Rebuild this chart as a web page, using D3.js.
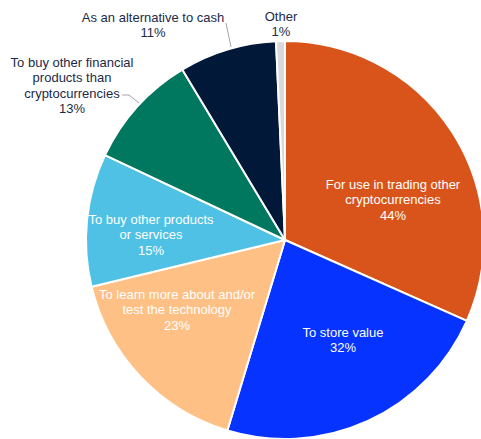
<!DOCTYPE html>
<html>
<head>
<meta charset="utf-8">
<script src="https://cdn.jsdelivr.net/npm/d3@7"></script>
<style>
  html, body { margin: 0; padding: 0; background: #ffffff; }
  svg { display: block; font-family: "Liberation Sans", Arial, sans-serif; }
</style>
</head>
<body>
<svg id="chart" width="481" height="439"></svg>
<script>
// Reasons for holding cryptocurrencies (multiple answers allowed)
const categories = [
  "For use in trading other cryptocurrencies",
  "To store value",
  "To learn more about and/or test the technology",
  "To buy other products or services",
  "To buy other financial products than cryptocurrencies",
  "As an alternative to cash",
  "Other"
];
const values = [44, 32, 23, 15, 13, 11, 1];
const labelLines = [
  ["For use in trading other", "cryptocurrencies"],
  ["To store value"],
  ["To learn more about and/or", "test the technology"],
  ["To buy other products", "or services"],
  ["To buy other financial", "products than", "cryptocurrencies"],
  ["As an alternative to cash"],
  ["Other"]
];
const colors = ["#d9541a", "#0633ff", "#ffc085", "#4fc1e4", "#00775f", "#011839", "#d9d9d9"];

// Label placement (offset of the first baseline from the pie centre)
const labelLayout = [
  { dx: 108,  dy: -51,  inside: true },
  { dx: 58,   dy: 97,   inside: true },
  { dx: -108, dy: 59,   inside: true },
  { dx: -134, dy: -16,  inside: true },
  { dx: -213, dy: -173, inside: false },
  { dx: -132, dy: -218, inside: false },
  { dx: -4,   dy: -219, inside: false }
];

const svg = d3.select("#chart");
const cx = 285, cy = 240, radius = 199;
const g = svg.append("g").attr("transform", `translate(${cx},${cy})`);

const pie = d3.pie().sort(null).value(d => d.value);
const data = categories.map((c, i) => ({ name: c, value: values[i], i }));
const arcs = pie(data);
const arc = d3.arc().innerRadius(0).outerRadius(radius);

g.selectAll("path.slice")
  .data(arcs)
  .join("path")
  .attr("class", "slice")
  .attr("d", arc)
  .attr("fill", d => colors[d.data.i])
  .attr("stroke", "#ffffff")
  .attr("stroke-width", 2)
  .attr("stroke-linejoin", "round");

// Leader lines for the labels outside the pie
const leaders = [
  { i: 4, pts: [[-163, -145], [-156, -145], [-146, -137]] },
  { i: 5, pts: [[-59, -217], [-54, -193]] }
];
g.selectAll("polyline.leader")
  .data(leaders)
  .join("polyline")
  .attr("class", "leader")
  .attr("points", d => d.pts.map(p => p.join(",")).join(" "))
  .attr("fill", "none")
  .attr("stroke", "#a6a6a6")
  .attr("stroke-width", 1);

const fmt = v => v + "%";
const lineH = 15.4;
const labels = g.selectAll("text.lbl")
  .data(arcs)
  .join("text")
  .attr("class", "lbl")
  .attr("text-anchor", "middle")
  .attr("font-size", 13)
  .attr("fill", d => labelLayout[d.data.i].inside ? "#ffffff" : "#1c2a48")
  .attr("transform", d => `translate(${labelLayout[d.data.i].dx},${labelLayout[d.data.i].dy})`);

labels.each(function(d) {
  const lines = labelLines[d.data.i].concat([fmt(d.data.value)]);
  const t = d3.select(this);
  lines.forEach((ln, k) => {
    t.append("tspan").attr("x", 0).attr("y", k * lineH).text(ln);
  });
});
</script>
</body>
</html>
